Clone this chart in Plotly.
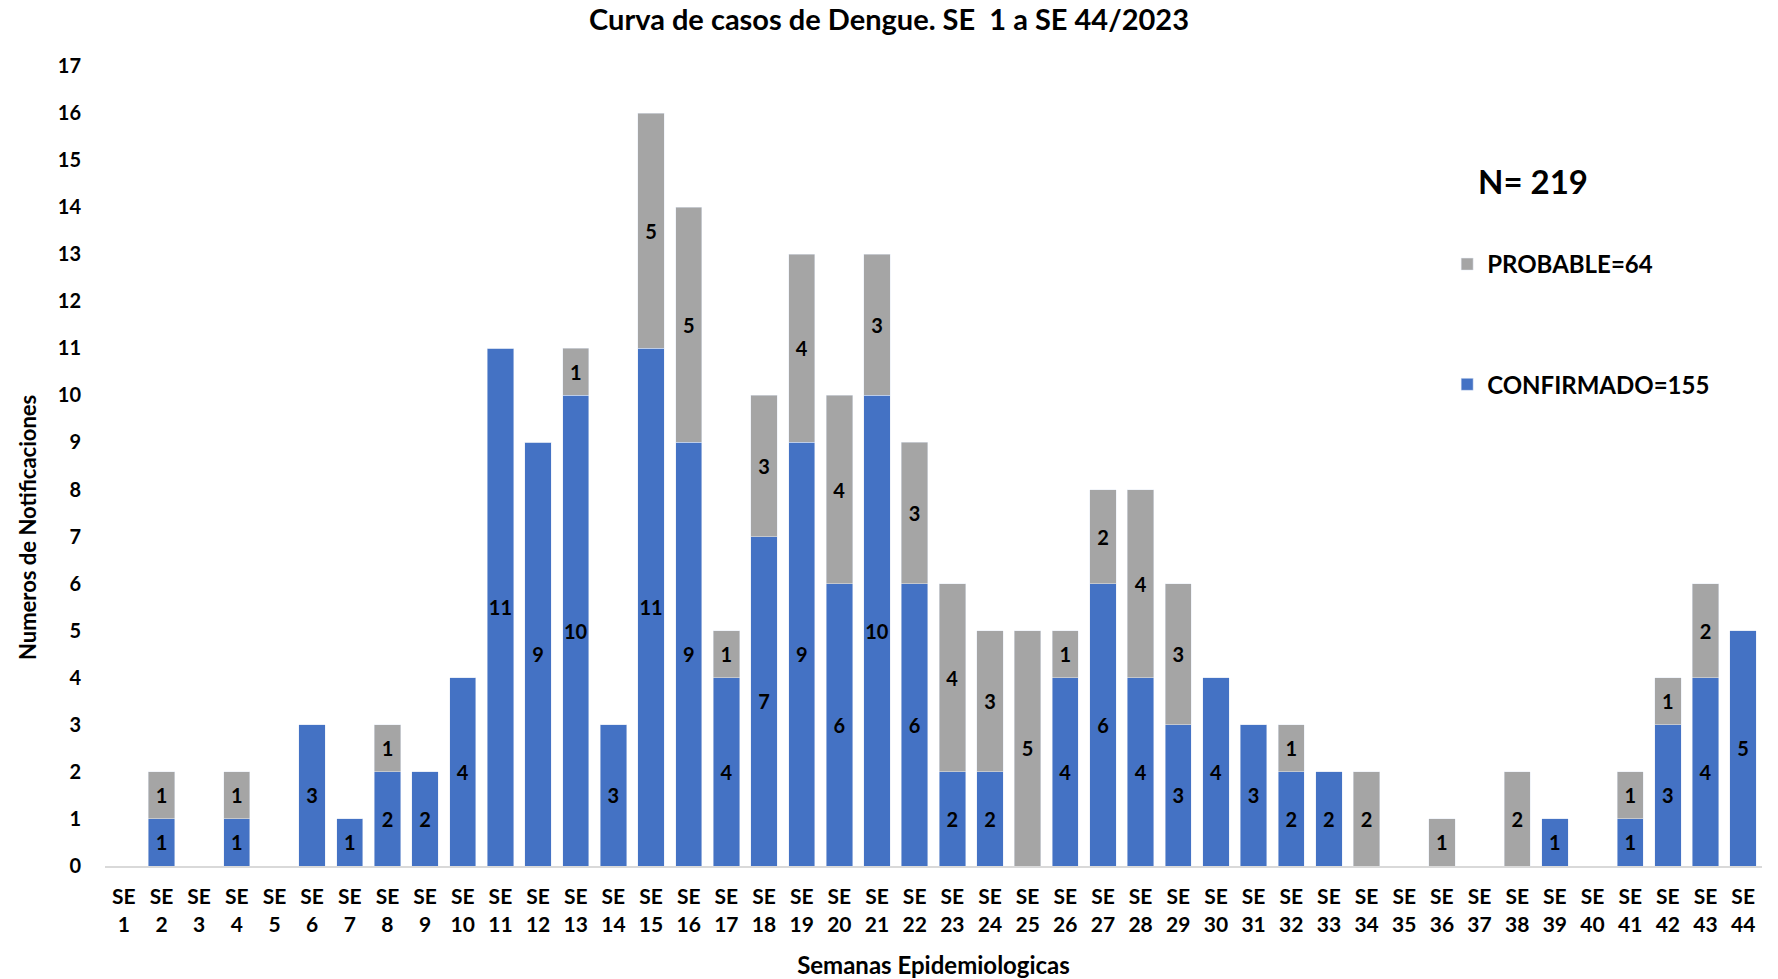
import plotly.graph_objects as go

weeks = [f"SE {i}" for i in range(1, 45)]
tick_labels = [f"SE<br>{i}" for i in range(1, 45)]
confirmado = [0, 1, 0, 1, 0, 3, 1, 2, 2, 4, 11, 9, 10, 3, 11, 9, 4, 7, 9, 6, 10, 6,
              2, 2, 0, 4, 6, 4, 3, 4, 3, 2, 2, 0, 0, 0, 0, 0, 1, 0, 1, 3, 4, 5]
probable = [0, 1, 0, 1, 0, 0, 0, 1, 0, 0, 0, 0, 1, 0, 5, 5, 1, 3, 4, 4, 3, 3,
            4, 3, 5, 1, 2, 4, 3, 0, 0, 1, 0, 2, 0, 1, 0, 2, 0, 0, 1, 1, 2, 0]
total_label = "N= 219"
name_conf = "CONFIRMADO=155"
name_prob = "PROBABLE=64"

FONT = "Lato"
BLUE = "#4472C4"
GRAY = "#A5A5A5"

def lbl(vals):
    return [str(v) if v else "" for v in vals]

fig = go.Figure()
fig.add_trace(go.Bar(
    x=weeks, y=confirmado, name=name_conf, marker_color=BLUE,
    text=lbl(confirmado), textposition="inside", insidetextanchor="middle",
    textangle=0, constraintext="none",
    textfont=dict(family=FONT, size=20, color="black", weight="bold"),
    legendgroup="c", legendrank=2, hoverinfo="x+y+name",
))
fig.add_trace(go.Bar(
    x=weeks, y=probable, name=name_prob, marker_color=GRAY,
    text=lbl(probable), textposition="inside", insidetextanchor="middle",
    textangle=0, constraintext="none",
    textfont=dict(family=FONT, size=20, color="black", weight="bold"),
    legendgroup="p", legendrank=1, hoverinfo="x+y+name",
))

fig.update_layout(
    barmode="stack",
    bargap=0.3,
    width=1778, height=979,
    margin=dict(l=105, r=16, t=66, b=113),
    plot_bgcolor="white", paper_bgcolor="white",
    font=dict(family=FONT, size=20, color="black", weight="bold"),
    title=dict(text="<b>Curva de casos de Dengue. SE  1 a SE 44/2023</b>",
               x=0.5, xanchor="center", y=0.98, yanchor="middle",
               font=dict(family=FONT, size=29, color="black")),
    xaxis=dict(
        tickmode="array", tickvals=weeks, ticktext=tick_labels,
        showline=True, linecolor="#D9D9D9", linewidth=2,
        showgrid=False, ticks="", ticklabelstandoff=11, automargin=False,
        tickfont=dict(size=21, weight="bold"),
        title=dict(text="<b>Semanas Epidemiologicas</b>", font=dict(size=24), standoff=24),
    ),
    yaxis=dict(
        range=[0, 17], dtick=1, showgrid=False, zeroline=False, showline=False,
        ticks="", ticklabelstandoff=23, automargin=False,
        tickfont=dict(size=20, weight="bold"),
    ),
    legend=dict(
        x=0.81, y=0.780, xanchor="left", yanchor="top",
        traceorder="grouped", tracegroupgap=86,
        font=dict(family=FONT, size=24, color="black", weight="bold"),
        itemwidth=30, bgcolor="rgba(0,0,0,0)",
    ),
    annotations=[
        dict(text=f"<b>{total_label}</b>", xref="paper", yref="paper",
             x=0.8275, y=0.856, xanchor="left", yanchor="middle", showarrow=False,
             font=dict(family=FONT, size=33, color="black")),
        dict(text="<b>Numeros de Notificaciones</b>", xref="paper", yref="paper",
             x=0, xshift=-78, y=0.4225, xanchor="center", yanchor="middle",
             textangle=-90, showarrow=False,
             font=dict(family=FONT, size=22, color="black")),
    ],
)

fig.write_html("out.html", config={"displayModeBar": False},
               post_script="document.body.style.margin='0';")
